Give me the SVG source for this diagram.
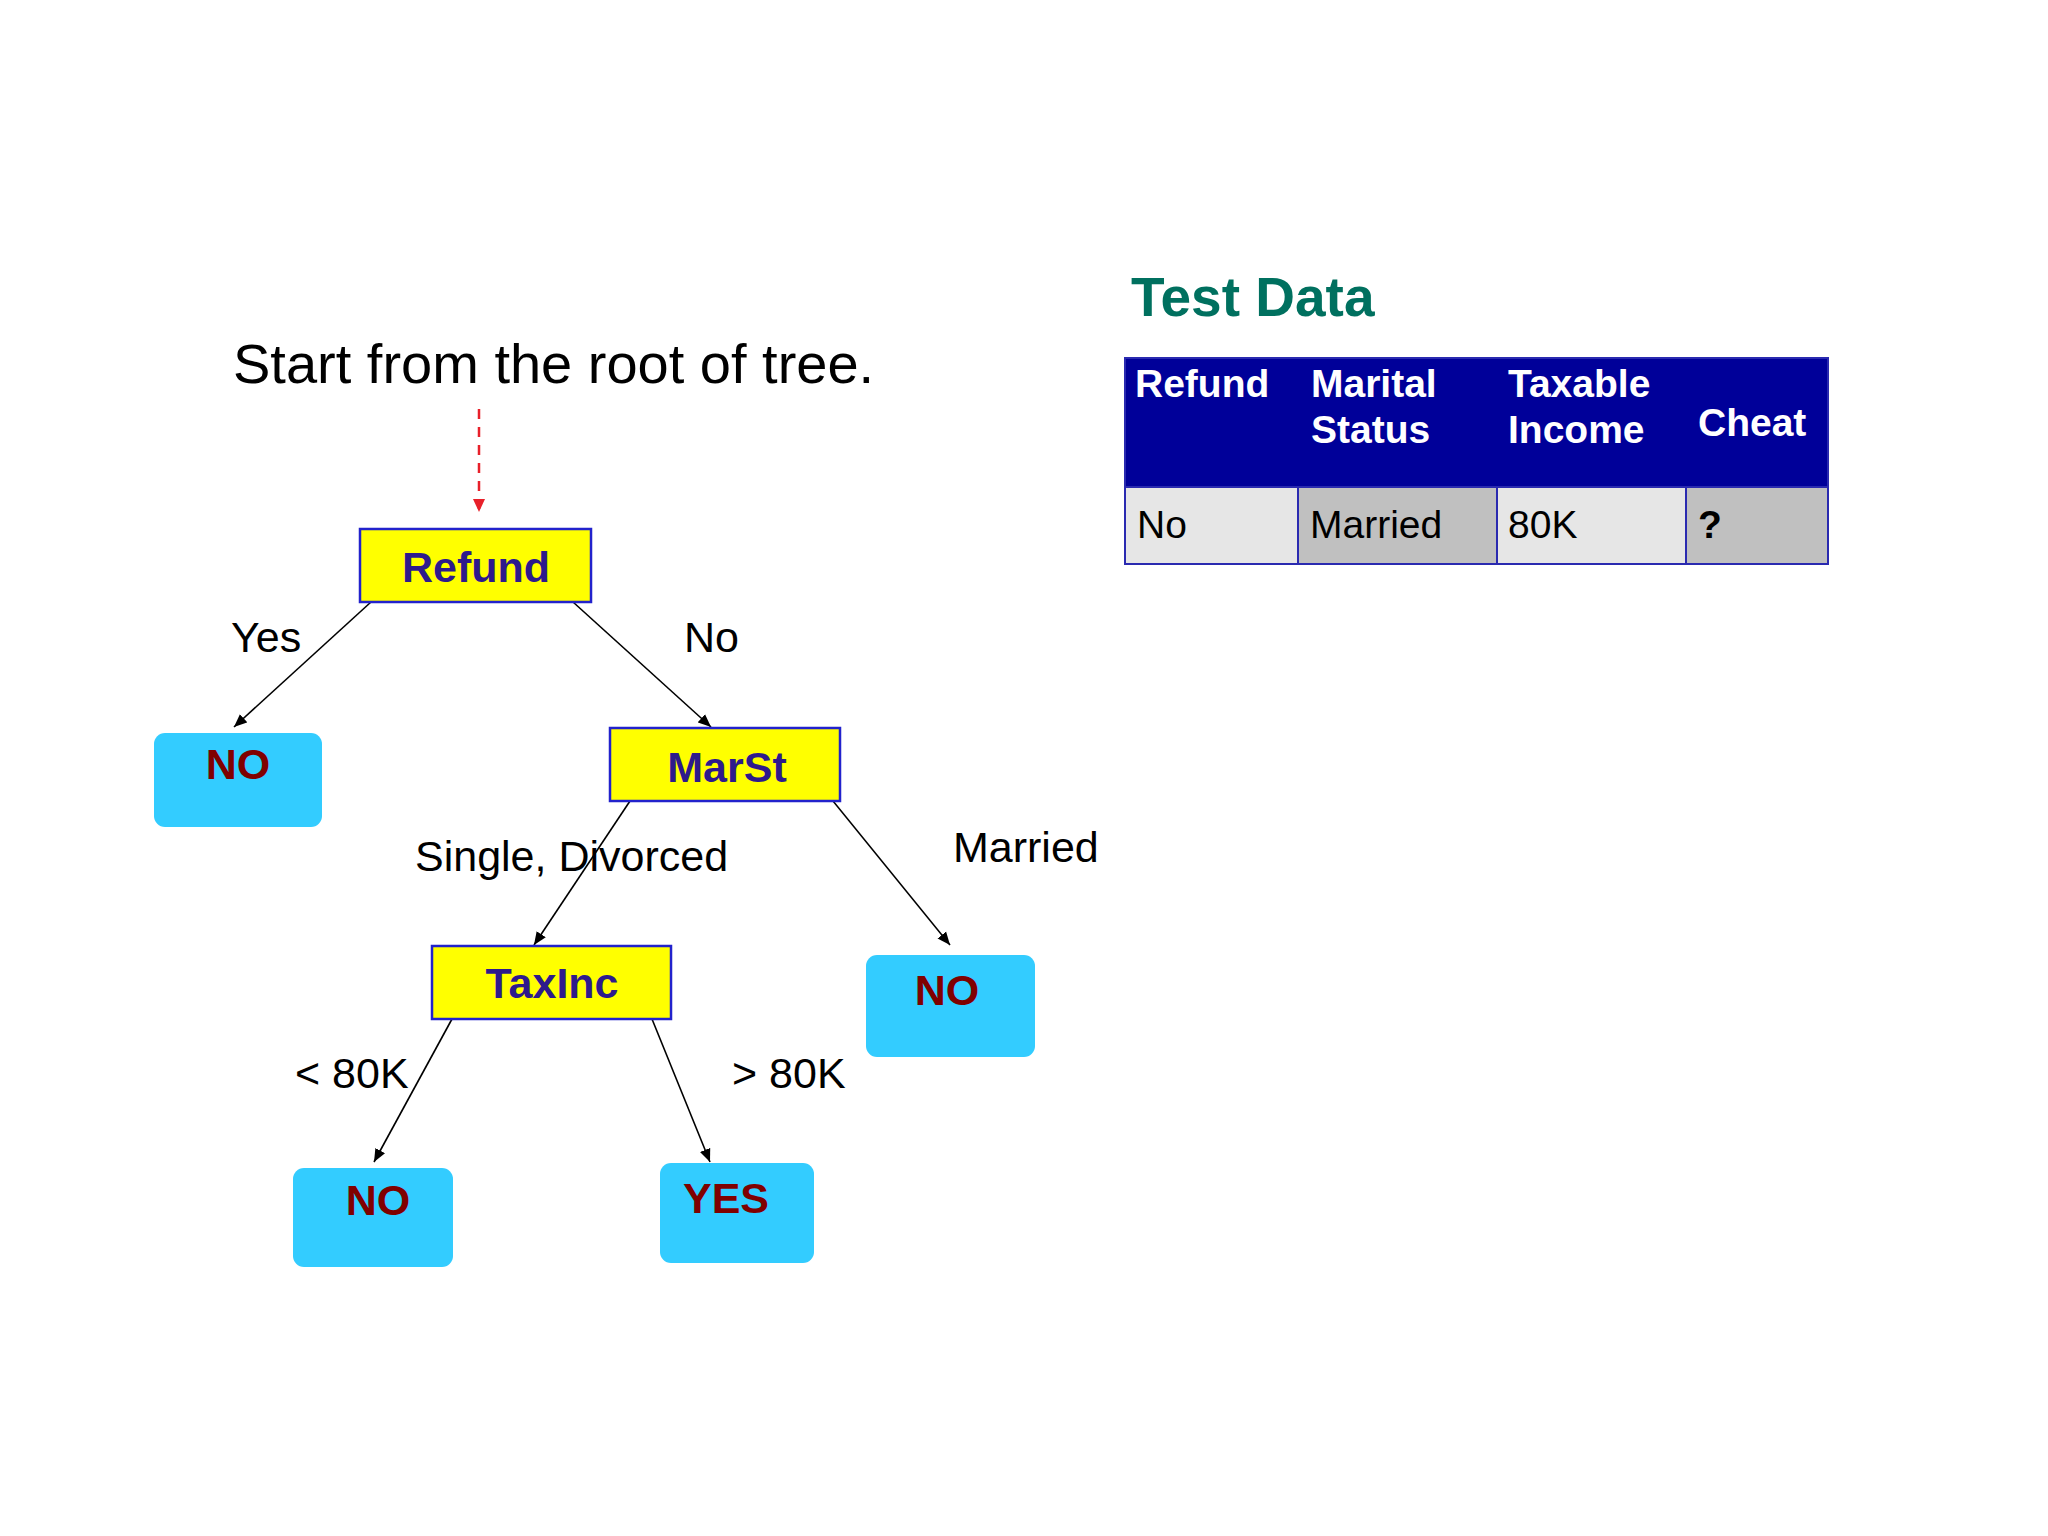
<svg xmlns="http://www.w3.org/2000/svg" width="2048" height="1536" viewBox="0 0 2048 1536">
<style>
text{font-family:"Liberation Sans",Arial,sans-serif}
.dec rect{fill:#FFFF00;stroke:#2222CC;stroke-width:2.5}
.dec text{font-weight:bold;font-size:43px;fill:#2E1A8C;text-anchor:middle}
.leaf rect{fill:#33CCFF}
.leaf text{font-weight:bold;font-size:43px;fill:#800000;text-anchor:middle}
.lbl{font-size:43px;fill:#000}
.edge{stroke:#000;stroke-width:1.6;fill:none;marker-end:url(#arr)}
.hd{font-weight:bold;font-size:39px;fill:#fff}
.cell{font-size:39px;fill:#000}
</style>
<defs>
<marker id="arr" markerUnits="userSpaceOnUse" markerWidth="14" markerHeight="12" viewBox="0 0 14 12" refX="13" refY="6" orient="auto">
<path d="M0,0.5 L13,6 L0,11.5 Z" fill="#000"/>
</marker>
<marker id="arrRed" markerUnits="userSpaceOnUse" markerWidth="14" markerHeight="12" viewBox="0 0 14 12" refX="13" refY="6" orient="auto">
<path d="M0,0 L13,6 L0,12 Z" fill="#E8202A"/>
</marker>
</defs>
<rect width="2048" height="1536" fill="#FFFFFF"/>

<text id="title" x="233" y="383" font-size="56" fill="#000">Start from the root of tree.</text>

<g id="connectors">
<line x1="479" y1="409" x2="479" y2="512" stroke="#E8202A" stroke-width="2.5" stroke-dasharray="10,8" marker-end="url(#arrRed)"/>
<line class="edge" x1="371" y1="602" x2="234" y2="727"/>
<line class="edge" x1="573" y1="602" x2="711" y2="727"/>
<line class="edge" x1="630" y1="801" x2="534" y2="945"/>
<line class="edge" x1="833" y1="801" x2="950" y2="945"/>
<line class="edge" x1="452" y1="1019" x2="374" y2="1162"/>
<line class="edge" x1="652" y1="1019" x2="710" y2="1162"/>
<text class="lbl" x="231" y="652">Yes</text>
<text class="lbl" x="684" y="652">No</text>
<text class="lbl" x="415" y="871" font-size="44">Single, Divorced</text>
<text class="lbl" x="953" y="862">Married</text>
<text class="lbl" x="295" y="1088">&lt; 80K</text>
<text class="lbl" x="732" y="1088">&gt; 80K</text>
</g>

<g id="node-refund" class="dec">
<rect x="360" y="529" width="231" height="73"/>
<text x="476" y="582">Refund</text>
</g>
<g id="node-marst" class="dec">
<rect x="610" y="728" width="230" height="73"/>
<text x="727" y="782">MarSt</text>
</g>
<g id="node-taxinc" class="dec">
<rect x="432" y="946" width="239" height="73"/>
<text x="552" y="998">TaxInc</text>
</g>
<g id="leaf-no1" class="leaf">
<rect x="154" y="733" width="168" height="94" rx="11"/>
<text x="238" y="779">NO</text>
</g>
<g id="leaf-no2" class="leaf">
<rect x="866" y="955" width="169" height="102" rx="11"/>
<text x="947" y="1005">NO</text>
</g>
<g id="leaf-no3" class="leaf">
<rect x="293" y="1168" width="160" height="99" rx="11"/>
<text x="378" y="1215">NO</text>
</g>
<g id="leaf-yes" class="leaf">
<rect x="660" y="1163" width="154" height="100" rx="11"/>
<text x="726" y="1213">YES</text>
</g>

<g id="test-data">
<text x="1131" y="316" font-size="55" font-weight="bold" fill="#00705F">Test Data</text>
<rect x="1125" y="358" width="703" height="129" fill="#000099"/>
<rect x="1125" y="487" width="173" height="77" fill="#E6E6E6"/>
<rect x="1298" y="487" width="199" height="77" fill="#C0C0C0"/>
<rect x="1497" y="487" width="189" height="77" fill="#E6E6E6"/>
<rect x="1686" y="487" width="142" height="77" fill="#C0C0C0"/>
<g stroke="#2A2AB0" stroke-width="2" fill="none">
<rect x="1125" y="358" width="703" height="206"/>
<line x1="1125" y1="487" x2="1828" y2="487"/>
<line x1="1298" y1="487" x2="1298" y2="564"/>
<line x1="1497" y1="487" x2="1497" y2="564"/>
<line x1="1686" y1="487" x2="1686" y2="564"/>
</g>
<text class="hd" x="1135" y="397">Refund</text>
<text class="hd" x="1311" y="397">Marital</text>
<text class="hd" x="1311" y="443">Status</text>
<text class="hd" x="1508" y="397">Taxable</text>
<text class="hd" x="1508" y="443">Income</text>
<text class="hd" x="1698" y="436">Cheat</text>
<text class="cell" x="1137" y="538">No</text>
<text class="cell" x="1310" y="538">Married</text>
<text class="cell" x="1508" y="538">80K</text>
<text class="cell" x="1698" y="538" font-weight="bold">?</text>
</g>
</svg>
